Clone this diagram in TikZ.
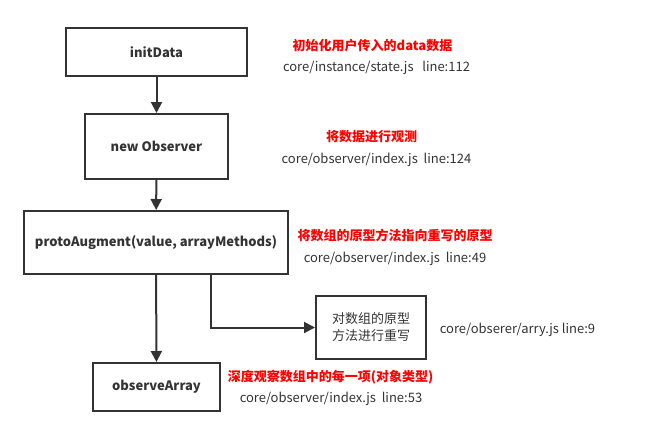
\documentclass[tikz,border=0pt]{standalone}
\usepackage{fontspec}
\setmainfont{Noto Sans CJK SC}
\usetikzlibrary{arrows.meta}
\definecolor{ink}{HTML}{333333}
\tikzset{
  box/.style={draw=ink, line width=2pt, text=ink, font=\bfseries\fontsize{13}{15}\selectfont, inner sep=0pt},
  note/.style={text=red, font=\bfseries\fontsize{13}{15}\selectfont, inner sep=0pt},
  src/.style={text=ink, font=\fontsize{13}{15}\selectfont, inner sep=0pt},
  link/.style={draw=ink, line width=2pt, -{Triangle[length=11pt,width=11pt]}}
}
\begin{document}
\begin{tikzpicture}[x=1pt,y=-1pt]
      \useasboundingbox (0,0) rectangle (661,445);
      \draw
        (156.5,52) node[box, minimum width=181, minimum height=48] (init){initData}
        (156.5,146.5) node[box, minimum width=143, minimum height=65] (observer){new Observer}
        (156,242.5) node[box, minimum width=264, minimum height=63] (augment){protoAugment(value, arrayMethods)}
        (156.5,387) node[box, minimum width=127, minimum height=48] (array){observeArray}
        (371,327.5) node[box, minimum width=110, minimum height=63, font=\fontsize{13}{17}\selectfont, align=center] (rewrite){对数组的原型\\方法进行重写}
        (372.5,46) node[note] (initnote){初始化用户传入的data数据}
        (376.5,68) node[src] (initsrc){core/instance/state.js\ \ \ line:112}
        (371.5,136.5) node[note] (observernote){将数据进行观测}
        (376.5,160) node[src] (observersrc){core/observer/index.js\ \ line:124}
        (395,235) node[note] (augmentnote){将数组的原型方法指向重写的原型}
        (395,259) node[src] (augmentsrc){core/observer/index.js\ \ line:49}
        (517.5,330) node[src] (rewritesrc){core/obserer/arry.js line:9}
        (330.5,377.5) node[note] (arraynote){深度观察数组中的每一项(对象类型)}
        (331,399) node[src] (arraysrc){core/observer/index.js\ \ line:53};
      \coordinate (bend) at (211,327.5);
      \begin{scope}[link]
        \draw (init) to (observer);
        \draw (observer) to (augment);
        \draw (augment) to (array);
        \draw (augment.south -| bend) |- (rewrite);
      \end{scope}
    \end{tikzpicture}
\end{document}
